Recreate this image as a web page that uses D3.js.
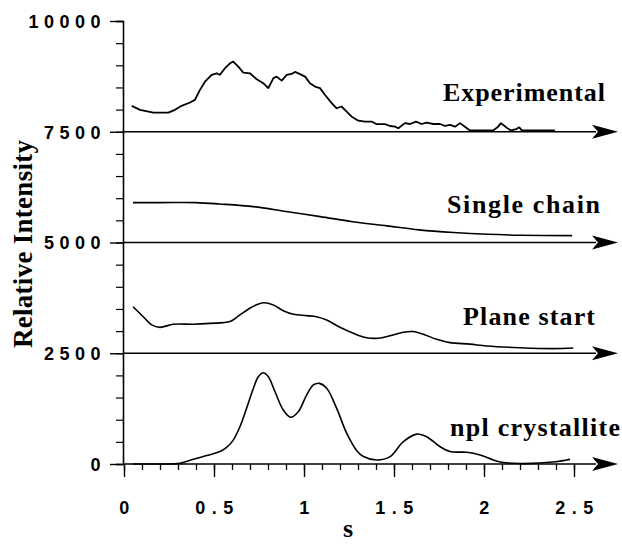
<!DOCTYPE html>
<html>
<head>
<meta charset="utf-8">
<script src="https://cdn.jsdelivr.net/npm/d3@7"></script>
<style>
  body { margin: 0; background: #fff; }
  svg { display: block; }
  .tick-lbl { font-family: "Liberation Sans", Arial, sans-serif; font-weight: bold; font-size: 18px; fill: #000; }
  .serif-lbl { font-family: "Liberation Serif", "Times New Roman", serif; font-weight: bold; font-size: 26px; fill: #000; }
</style>
</head>
<body>
<div id="chart"></div>
<script>
// ── Data (intensity above each curve's baseline) ─────────────────────────
const seriesNames = ["Experimental", "Single chain", "Plane start", "npl crystallite"];
const seriesOffsets = [7500, 5000, 2500, 0];

const expS = [0.043, 0.089, 0.163, 0.246, 0.283, 0.32, 0.367, 0.394, 0.422, 0.45, 0.487, 0.515, 0.533,
  0.561, 0.589, 0.607, 0.635, 0.663, 0.7, 0.737, 0.774, 0.802, 0.83, 0.848, 0.876, 0.904, 0.931, 0.95,
  0.978, 1.006, 1.033, 1.061, 1.089, 1.117, 1.154, 1.181, 1.209, 1.237, 1.265, 1.302, 1.339, 1.376,
  1.404, 1.45, 1.478, 1.506, 1.524, 1.561, 1.589, 1.622, 1.654, 1.681, 1.719, 1.756, 1.783, 1.811,
  1.839, 1.867, 1.894, 1.922, 2.05, 2.075, 2.094, 2.13, 2.15, 2.18, 2.196, 2.21, 2.394];
const expI = [585, 495, 430, 430, 495, 585, 660, 720, 945, 1130, 1285, 1320, 1285,
  1435, 1545, 1585, 1470, 1335, 1320, 1185, 1095, 985, 1210, 1245, 1155, 1285, 1305, 1350,
  1300, 1245, 1095, 1020, 985, 830, 645, 530, 570, 455, 340, 250, 230, 230,
  170, 170, 130, 115, 80, 195, 175, 230, 175, 205, 175, 175, 130, 155,
  115, 195, 115, 30, 30, 100, 195, 80, 30, 60, 100, 30, 30];

const singleS = [0.05, 0.2, 0.4, 0.53, 0.72, 0.9, 1.09, 1.27, 1.46, 1.64, 1.83, 2.02, 2.2, 2.49];
const singleI = [900, 900, 900, 870, 810, 700, 585, 470, 375, 285, 225, 185, 165, 155];

const planeS = [0.05, 0.107, 0.154, 0.2, 0.274, 0.385, 0.478, 0.589, 0.644, 0.709, 0.774, 0.83, 0.885,
  0.941, 1.015, 1.07, 1.126, 1.2, 1.274, 1.348, 1.413, 1.478, 1.552, 1.607, 1.663, 1.737, 1.811,
  1.922, 2.015, 2.2, 2.385, 2.496];
const planeI = [1050, 825, 640, 585, 655, 655, 675, 715, 865, 1040, 1140, 1090, 960,
  880, 850, 825, 750, 585, 450, 350, 340, 395, 475, 490, 430, 315, 240,
  205, 165, 125, 105, 120];

const nplS = [0.05, 0.2, 0.311, 0.385, 0.459, 0.533, 0.57, 0.607, 0.644, 0.681, 0.719, 0.746, 0.774,
  0.802, 0.839, 0.885, 0.926, 0.968, 1.015, 1.052, 1.085, 1.126, 1.181, 1.237, 1.293, 1.33, 1.404,
  1.478, 1.552, 1.626, 1.681, 1.756, 1.811, 1.904, 1.978, 2.052, 2.098, 2.2, 2.4, 2.459, 2.478];
const nplI = [0, 0, 15, 105, 190, 280, 375, 540, 840, 1260, 1710, 1970, 2060,
  1970, 1630, 1220, 1055, 1180, 1560, 1785, 1820, 1710, 1260, 695, 300, 170, 90,
  165, 505, 675, 615, 390, 280, 265, 205, 90, 40, 10, 50, 90, 105];

const yMajorTicks = [0, 2500, 5000, 7500, 10000];
const xMajorTicks = [0, 0.5, 1, 1.5, 2, 2.5];
const xTickLabels = ["0", "0.5", "1", "1.5", "2", "2.5"];

// ── Layout ───────────────────────────────────────────────────────────────
const W = 622, H = 545;
const svg = d3.select("#chart").append("svg").attr("width", W).attr("height", H);

const x = d3.scaleLinear().domain([0, 2.5]).range([124, 574]);
const y = d3.scaleLinear().domain([0, 10000]).range([464, 21]);

const ink = "#000";

// ── Y axis ───────────────────────────────────────────────────────────────
const yMinor = d3.range(0, 10001, 500);
svg.append("g")
  .attr("transform", "translate(123,0)")
  .call(d3.axisLeft(y).tickValues(yMinor).tickSize(7).tickFormat(""))
  .call((g) => g.select(".domain").attr("stroke-width", 1.6))
  .call((g) => g.selectAll(".tick line").attr("stroke-width", 1.2));

svg.append("g")
  .attr("transform", "translate(123,0)")
  .call(d3.axisLeft(y).tickValues(yMajorTicks).tickSize(13).tickFormat(d3.format("d")))
  .call((g) => g.select(".domain").remove())
  .call((g) => g.selectAll(".tick line").attr("stroke-width", 1.4))
  .call((g) => g.selectAll(".tick text")
    .attr("class", "tick-lbl")
    .attr("font-family", null).attr("font-size", null)
    .attr("x", -17).attr("dy", "0.36em")
    .style("letter-spacing", "5.5px"));

// ── X axis (on the 0 baseline) ───────────────────────────────────────────
const xMinor = d3.range(0, 26).map((i) => i / 10);
svg.append("g")
  .attr("transform", `translate(0,${y(0)})`)
  .call(d3.axisBottom(x).tickValues(xMinor).tickSize(6).tickFormat(""))
  .call((g) => g.select(".domain").remove())
  .call((g) => g.selectAll(".tick line").attr("stroke-width", 1.3));

svg.append("g")
  .attr("transform", `translate(0,${y(0)})`)
  .call(d3.axisBottom(x).tickValues(xMajorTicks).tickSize(13)
    .tickFormat((d, i) => xTickLabels[i]))
  .call((g) => g.select(".domain").remove())
  .call((g) => g.selectAll(".tick line").attr("stroke-width", 1.4))
  .call((g) => g.selectAll(".tick text")
    .attr("class", "tick-lbl")
    .attr("font-family", null).attr("font-size", null)
    .attr("y", 50).attr("dy", 0).attr("dx", 3)
    .style("letter-spacing", "6.5px"));

// ── Baselines with arrows ────────────────────────────────────────────────
const xEnd = x.range()[1];
seriesOffsets.forEach((off) => {
  const yy = y(off);
  svg.append("line")
    .attr("x1", 123).attr("x2", xEnd + 22)
    .attr("y1", yy).attr("y2", yy)
    .attr("stroke", ink).attr("stroke-width", 1.7);
  svg.append("path")
    .attr("d", `M${xEnd + 44},${yy} L${xEnd + 18},${yy - 7} L${xEnd + 24},${yy} L${xEnd + 18},${yy + 7} Z`)
    .attr("fill", ink);
});

// ── Curves ───────────────────────────────────────────────────────────────
const seriesData = [
  [expS, expI],
  [singleS, singleI],
  [planeS, planeI],
  [nplS, nplI],
];

seriesData.forEach(([sArr, iArr], k) => {
  const pts = sArr.map((s, i) => ({ s, v: iArr[i] + seriesOffsets[k] }));
  const line = d3.line()
    .x((d) => x(d.s))
    .y((d) => y(d.v))
    .curve(k === 0 ? d3.curveLinear : d3.curveCatmullRom.alpha(0.5));
  svg.append("path")
    .datum(pts)
    .attr("fill", "none")
    .attr("stroke", ink)
    .attr("stroke-width", k === 0 ? 1.8 : 1.6)
    .attr("stroke-linejoin", "round")
    .attr("d", line);
});

// ── Curve labels ─────────────────────────────────────────────────────────
const labelPos = [
  { x: 443, y: 101, w: 162 },
  { x: 447, y: 213, w: 153 },
  { x: 463, y: 325, w: 132 },
  { x: 450, y: 436, w: 170 },
];
seriesNames.forEach((name, i) => {
  svg.append("text")
    .attr("class", "serif-lbl")
    .attr("x", labelPos[i].x)
    .attr("y", labelPos[i].y)
    .attr("textLength", labelPos[i].w)
    .attr("lengthAdjust", "spacing")
    .text(name);
});

// ── Axis titles ──────────────────────────────────────────────────────────
svg.append("text")
  .attr("class", "serif-lbl")
  .style("font-size", "27px")
  .attr("transform", "translate(32,348) rotate(-90)")
  .attr("textLength", 208)
  .attr("lengthAdjust", "spacing")
  .text("Relative Intensity");

svg.append("text")
  .attr("class", "serif-lbl")
  .attr("x", 348)
  .attr("y", 537)
  .attr("text-anchor", "middle")
  .text("s");
</script>
</body>
</html>
